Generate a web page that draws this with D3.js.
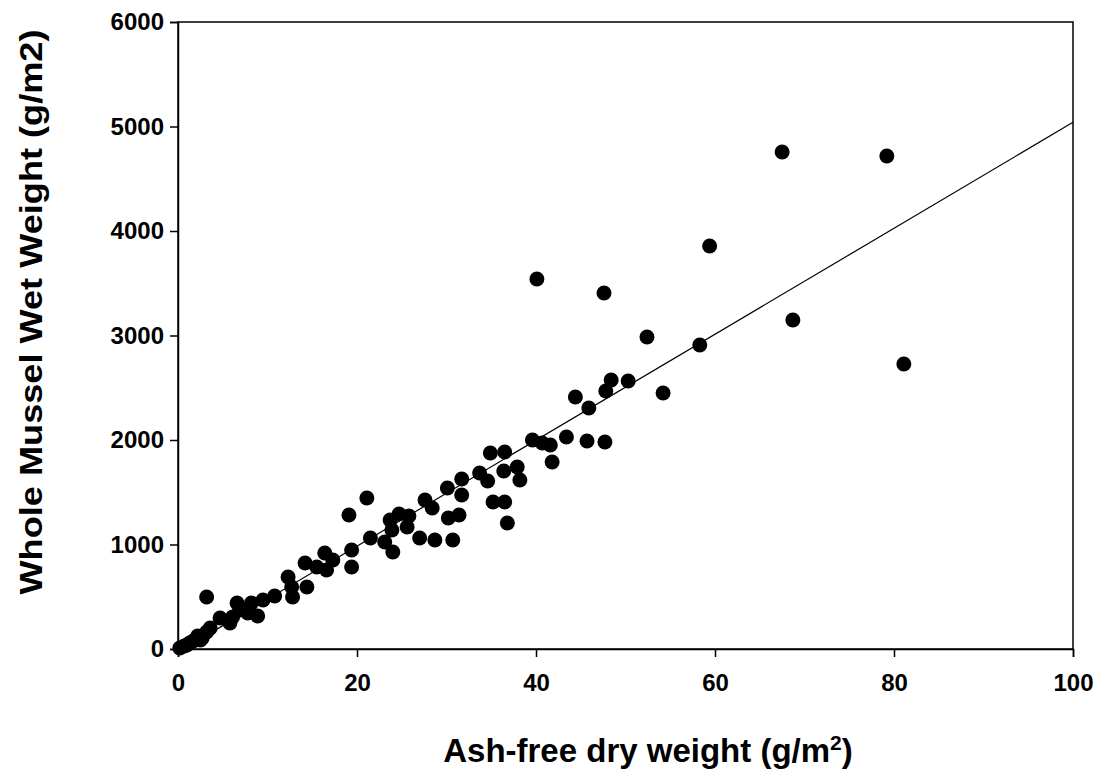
<!DOCTYPE html>
<html><head><meta charset="utf-8">
<script src="https://cdn.jsdelivr.net/npm/d3@7"></script>
<style>body{margin:0;background:#fff}</style>
</head><body>
<svg id="c" width="1103" height="775"></svg>
<script>
const afdw = [67.5,79.2,59.4,40.1,47.6,52.4,68.7,81.1,58.3,54.2,50.3,48.4,47.8,44.4,45.9,45.7,47.7,43.4,39.6,40.7,41.6,41.8,34.9,36.5,33.7,34.6,36.4,37.9,38.2,31.7,30.1,31.7,27.6,28.4,21.1,19.1,35.2,36.5,30.2,31.4,36.8,23.7,24.7,25.8,23.9,25.6,27.0,28.7,30.7,21.5,23.1,24.0,19.4,19.4,17.3,16.4,14.2,15.5,16.6,12.3,12.7,14.4,12.8,10.8,9.5,8.2,6.6,7.8,8.9,6.1,5.8,4.7,3.2,3.2,2.7,1.7,1.0,0.2,3.6,6.9,2.2,0.7,1.3,2.5];
const wetWeight = [4756,4718,3857,3541,3407,2986,3149,2727,2909,2450,2565,2574,2469,2412,2306,1991,1981,2029,2000,1971,1952,1790,1876,1885,1684,1608,1703,1742,1617,1627,1541,1474,1426,1349,1445,1282,1407,1407,1254,1282,1206,1235,1292,1273,1139,1168,1062,1043,1043,1062,1024,928,947,785,852,919,823,785,756,689,593,593,498,507,469,440,440,345,316,306,249,297,498,163,105,77,38,10,201,373,124,29,57,86];
const xTicks = [0,20,40,60,80,100];
const yTicks = [0,1000,2000,3000,4000,5000,6000];
const fitSlope = 50.7, fitIntercept = -30;
const fitX = [0,100];

const svg = d3.select("#c");
const L=178,R=1073,T=22,B=649;
const x = d3.scaleLinear().domain([0,100]).range([L,R]);
const y = d3.scaleLinear().domain([0,6000]).range([B,T]);
const FF = "'Liberation Sans', Arial, sans-serif";

svg.append("rect").attr("x",L).attr("y",T).attr("width",R-L).attr("height",B-T)
  .attr("fill","none").attr("stroke","#000").attr("stroke-width",1.5);

const xa = svg.append("g").attr("transform",`translate(0,${B})`)
  .call(d3.axisBottom(x).tickValues(xTicks).tickSize(8).tickPadding(22).tickFormat(d3.format("d")));
const ya = svg.append("g").attr("transform",`translate(${L},0)`)
  .call(d3.axisLeft(y).tickValues(yTicks).tickSize(8).tickPadding(6).tickFormat(d3.format("d")));
[xa,ya].forEach(a=>{
  a.select(".domain").attr("stroke","#000").attr("stroke-width",1.5);
  a.selectAll(".tick line").attr("stroke","#000").attr("stroke-width",1.5);
  a.selectAll("text").attr("fill","#000").style("font-family",FF)
   .style("font-weight","bold").style("font-size","24px");
});
xa.selectAll("text").attr("dy","0.5em");

svg.append("path").datum(fitX)
  .attr("d", d3.line().x(d=>x(d)).y(d=>y(fitSlope*d+fitIntercept)))
  .attr("stroke","#000").attr("stroke-width",1.2).attr("fill","none");

svg.append("g").selectAll("circle").data(afdw.map((d,i)=>[d,wetWeight[i]]))
  .join("circle").attr("cx",d=>x(d[0])).attr("cy",d=>y(d[1])).attr("r",7.5).attr("fill","#000");

const xt = svg.append("text").attr("x",648).attr("y",762).attr("text-anchor","middle")
  .style("font-family",FF).style("font-weight","bold").style("font-size","33px");
xt.append("tspan").text("Ash-free dry weight (g/m");
xt.append("tspan").text("2").attr("dy",-12).style("font-size","21px");
xt.append("tspan").text(")").attr("dy",12);

svg.append("text").attr("transform","translate(42,312) rotate(-90)").attr("text-anchor","middle")
  .attr("textLength",565).attr("lengthAdjust","spacingAndGlyphs")
  .style("font-family",FF).style("font-weight","bold").style("font-size","31px")
  .text("Whole Mussel Wet Weight (g/m2)");
</script>
</body></html>
